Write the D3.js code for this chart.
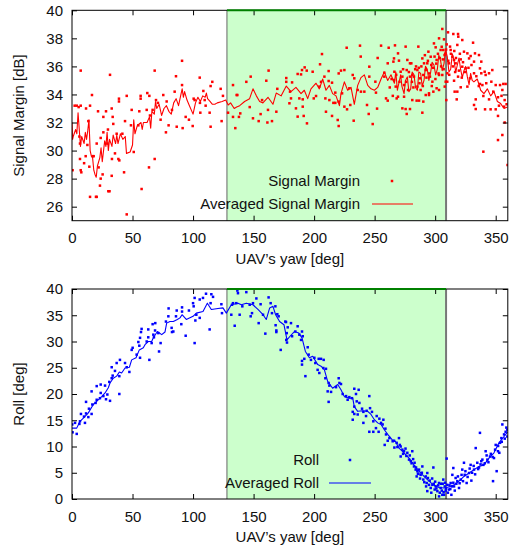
<!DOCTYPE html>
<html>
<head>
<meta charset="utf-8">
<script src="https://cdn.jsdelivr.net/npm/d3@7"></script>
<style>
body { margin: 0; background: #fff; }
svg { font-family: "Liberation Sans", Arial, sans-serif; }
.axis text { font-size: 15px; fill: #111; }
.lbl { font-size: 15px; fill: #111; }
</style>
</head>
<body>
<svg width="510" height="550"></svg>
<script>
// yaw region that is shaded
var band = [128, 309];
var xTicks = [0, 50, 100, 150, 200, 250, 300, 350];
var sigTicks = [26, 28, 30, 32, 34, 36, 38, 40];
var rollTicks = [0, 5, 10, 15, 20, 25, 30, 35, 40];

// signal margin samples [yaw, dB]
var sigPoints = [
[7.2,35.7],[31.4,35.4],[68.3,35.7],[85.9,35.3],[16.5,33.96],[2.2,33.2],[3.9,33.2],[5.5,33.1],[7.2,33.2],[14.9,33.2],
[38.8,33.7],[38.8,33.5],[45.2,33.9],[56.7,33.9],[56.7,33.7],[62.2,34.1],[63.9,33.9],[69.4,33.6],[71,33.4],[75.4,33.96],
[84.8,34.2],[21.5,32.8],[28.1,32.8],[32.8,33],[49.3,32.9],[61.7,32.9],[66.6,32.9],[78.2,33.5],[82.6,32.9],[11.6,33],
[25.9,32.4],[33.6,32.4],[43.8,32.1],[55.6,32.8],[64.4,32.5],[73.2,32.2],[79.8,31.8],[86.5,31.7],[48.7,31.8],[54.8,31.8],
[77.6,31.3],[34.1,31.9],[29.7,31.5],[25.9,31.3],[13.5,32.1],[6.1,31],[23.7,30.9],[6.6,30.5],[12.7,30.4],[36.9,31.2],
[41.6,31.2],[35.5,29.8],[39.1,29.3],[43,28.45],[32.8,28.2],[25.3,28.3],[17.1,29.6],[6.6,29.4],[10,29.1],[7.2,28.6],
[7.7,28.45],[0.5,28.6],[14.3,28.85],[22,28.8],[23.7,28],[23.1,27.5],[30,27.1],[31,27.1],[14.9,26.7],[19.8,26.7],
[20.4,26.7],[57.5,27.26],[45.2,25.45],[51,29.9],[63.6,28.8],[68.3,29.4],[33,29.4],[38.3,29.4],[17.9,29.6],[11.3,29.6],
[29.2,30.5],[20.4,30.5],
[90.9,36.4],[90.9,34.67],[105.5,35.2],[115.9,34.9],[122.8,34.4],[114.5,34.6],[108.5,34.25],[100.5,33.7],[101.3,33.6],[109.6,33.6],
[105.7,33.4],[110.4,33.2],[124.7,33.9],[93.9,32.4],[96.6,32.2],[91.4,31.6],[99.7,31.75],[106,32.7],[113.7,32.7],[114.5,31.7],
[123.6,32.1],[133,34.67],[136.6,33.96],[144,34.9],[147.6,35.27],[160.5,34.98],[162.4,35.7],[169.6,34.4],[177,35.17],[177,34.9],
[128.9,32.7],[133,32.4],[137.9,32.4],[134.9,31.6],[139,32.65],[146.8,33.1],[149.5,32.3],[154.2,32.1],[155.8,32.6],[161.4,32],
[165.2,32.1],[168.8,32.77],[157,33.6],[161.9,32.9],[136,33.96],
[226.9,37.33],[237.9,37.48],[206.5,36.88],[255.3,37.48],[261.6,37.33],[266.8,37.5],[238.5,36.7],[204.9,36.15],[252.5,36.6],[260.8,36.22],
[265.5,36.34],[245.6,35.98],[192.2,35.93],[190,35.74],[193.9,35.7],[198.8,35.62],[212,35.67],[186.4,35.46],[189.2,35.43],[222.2,35.7],
[225,35.74],[220.3,35.5],[231.9,35.39],[233.2,35.15],[245.6,35.27],[250.6,34.91],[258,35.55],[258,35.27],[266.3,35.62],[181.8,34.86],
[212,34.96],[214.8,34.84],[238.7,34.2],[236,34.32],[241.5,34.2],[180.1,34.2],[204.3,34.56],[201.6,33.89],[209.3,33.72],[212.6,33.6],
[217.5,34.13],[223.1,34.08],[229.1,34.44],[251.1,34.13],[259.4,33.72],[260.8,33.56],[187.8,33.72],[180.9,33.72],[179.6,33.37],[190.6,33.65],
[199.7,33.72],[215.9,33.4],[217.5,33.4],[220.3,33.49],[225,33.13],[227.2,32.94],[229.9,33.25],[243.7,33.25],[252,32.99],[185,33.01],
[190.6,33.13],[209.8,32.77],[245.1,32.61],[186.4,32.42],[191.4,32.47],[214.8,32.47],[219.5,32.18],[232.7,32.13],[194.1,31.94],[220.3,31.75],
[248.4,31.89],[205.7,34.9],[208.5,35.27],
[262.5,34.5],[264,35.1],[265,33.9],[267.8,35.4],[270.5,34.9],[273.5,35.8],[276,34.9],[278.3,35.6],
[305.9,38.67],[310.6,38.43],[315,38.31],[318.9,38.31],[322.4,37.88],[331.3,37.69],[303.2,38],[307.3,37.93],[309.5,37.57],[319.1,38.12],
[299,37.64],[286.1,37.41],[275.6,37.41],[294.4,37.05],[296.3,36.69],[300.4,37.36],[304.5,37.17],[312.3,37.41],[318.3,37.53],[323.8,37.05],
[326.6,36.93],[328,36.57],[332.9,36.93],[336.2,36.81],[329.3,36.74],[269.3,36.93],[270.1,36.41],[277,36.46],[279.2,36.22],[280.3,36.22],
[289.4,36.57],[290.8,36.22],[293.5,36.22],[301.2,36.46],[266,36.57],[311.4,36.22],[316.9,36.22],[321.1,36.5],[332.1,36.34],[338.1,36.34],
[322.4,35.98],[325.2,35.86],[337,35.86],[340.9,35.62],[341.7,35.39],[344.5,35.51],[347.2,35.74],[338.1,35.51],[332.1,35.51],[328.8,35.15],
[318.9,35.27],[315.6,34.98],[310,34.91],[321.1,34.51],[326.6,34.56],[318.3,34.2],[316.1,34.2],[337,34.75],[339,34.67],[346.4,34.91],
[350,34.67],[353.6,34.67],[356.3,34.75],[358.2,34.75],[355.5,34.32],[333.5,33.65],[339.8,33.89],[344.5,33.65],[351.9,33.8],[357.4,33.6],
[309.2,33.6],[317.8,33.65],[332.1,33.25],[333.5,32.96],[341.2,32.94],[345.8,32.94],[350,32.94],[356.9,33.13],[351.9,32.47],[357.4,32],
[355.5,31.11],[351.9,30.75],[339.8,29.92],[359.8,28.97],[266,35.03],[267.4,34.56],[269.3,33.84],[271.5,35.62],[272.9,35.27],[276.5,35.74],
[279.2,35.27],[281.1,35.39],[282.5,35.27],[285.3,35.74],[287.5,35.15],[290.2,35.39],[292.2,35.74],[295.7,35.27],[297.7,34.91],[303.2,35.39],
[305.9,35.39],[307.9,34.56],[274.3,34.67],[277.6,34.32],[285.3,34.56],[288,34.32],[294.9,34.08],[298.5,34.2],[301.2,34.44],[268.2,33.72],
[274.3,33.84],[281.1,33.6],[284.7,33.56],[286.7,33.56],[290.2,33.49],[292.2,33.96],[294.9,33.96],[272.9,33.01],[275.6,32.96],[279.2,32.96],
[276.5,32.61],[289.4,32.7],[303.2,34.32],[308.7,34.91],[312.8,37.17],[314.2,36.69],[315.6,36.46],[306.7,37.17],[307.8,36.81],[310,35.51],
[280.8,34.9],[282,34.5],[283.5,35.8],[284.2,36.0],[286.5,35.9],[287,34.8],[288.6,36.0],[289.8,34.6],[291.5,36.8],[292.8,35.2],
[294,36.4],[295,35.5],[296.8,36.1],[297.2,34.6],[298.2,35.9],[299.5,36.7],[300.2,35.1],[300.9,36.2],[302.3,36.9],[302.8,35.5],
[303.8,36.6],[304.9,36.0],[305.4,37.4],[306.3,36.5],[307,35.8],[308.3,36.9],[309,37.2],[310.8,36.4],[311.6,35.4],[313,36.9],
[314.6,36.0],[315.8,37.1],[316.5,35.6],[317.2,36.6],[319.6,35.7],[320.4,36.9],[322,35.2],[323,36.3],[324.6,35.6],[327.5,35.9],
[330,36.1],[334,35.3],[336,34.6],[342.2,34.8],[348,34.2],[352.7,33.2],[354.8,33.9],[359,33.3]
];

// averaged signal margin [yaw, dB]
var sigAvg = [
[0,32.0],[0.5,30.8],[1,31.0],[3,31.5],[4,31.2],[5,32.7],[6,31.5],[7,30.3],[8,31.0],[10,30.5],[11,31.3],[12,30.8],[13,31.4],[14,32.2],
[15,30.0],[16,29.6],[17,29.5],[18,28.6],[19,28.3],[20,28.1],[21,28.9],[23,29.5],[24,30.2],[25,29.2],[27,30.7],[28,30.3],[29,31.3],
[30,30.0],[31,30.8],[33,30.3],[34,31.1],[36,30.5],[37,31.1],[38,30.5],[40,31.2],[42,30.8],[44,31.0],[45,29.8],[48,29.9],[50,30.4],
[51,32.2],[52,31.2],[54,31.8],[57,32.0],[58,31.5],[59,32.0],[62,32.0],[64,32.4],[65,31.6],[66,32.8],[68,32.6],[69,33.5],[70,33.0],
[72,33.3],[74,32.5],[76,33.0],[78,33.2],[80,32.8],[82,32.6],[84,33.4],[86,33.7],[88,33.2],[90,34.0],[91,34.4],[92,33.8],[93,34.2],
[95,33.6],[97,33.2],[100,32.6],[102,33.4],[104,33.8],[106,33.5],[108,33.9],[110,33.8],[111,34.1],[112,33.7],[114,33.5],[116,33.3],
[118,33.3],[120,33.4],[124,33.5],[127,33.6],[129,33.25],[131,33.4],[134,33.0],[136,33.1],[138.5,33.2],[142.6,33.5],[146.7,33.7],
[149.5,34.4],[152.3,33.9],[155,33.5],[157.7,33.4],[161.9,33.8],[166,33.3],[168.7,34.1],[172.8,33.9],[177,34.6],[180.9,34.2],[185,34.5],
[189.2,34.06],[191.9,34.3],[194.7,33.7],[197.4,34.4],[201.6,34.8],[204.3,34.4],[207.1,35.1],[209.8,34.3],[212.6,34.65],[215.3,34.06],
[218.1,33.9],[220.9,33.2],[222.2,34.06],[225,34.9],[227.7,34.3],[230.5,34.5],[233.2,33.3],[236,34.65],[238.7,35.2],[241.5,35.4],
[244.3,34.65],[247,34.4],[249.8,34.3],[252.5,34.5],[255.3,35.1],[258,35.6],[260.8,35.0],[263.5,35.4],[266.3,34.8],[267.5,35.6],
[268.8,34.3],[270,34.8],[271.5,35.4],[272.5,34.6],[274.3,34.06],[275.5,35.0],[277,35.25],[278.3,34.2],[279.8,34.4],[281,35.6],
[282.5,35.4],[283.8,34.5],[285.3,34.3],[286.5,35.6],[288,35.5],[289.3,34.6],[290.8,35.0],[292,36.0],[293.5,35.8],[294.8,35.0],
[296.3,35.6],[297.5,36.3],[299,36.1],[300.4,35.4],[301.8,35.8],[303,36.8],[304.5,36.4],[305.8,35.7],[307.3,36.2],[308.5,37.2],
[310,36.7],[311.4,35.6],[312.8,35.8],[314.2,36.9],[315.6,36.4],[317,35.6],[318.3,36.1],[319.7,36.6],[321,35.8],[322.4,35.2],
[323.8,35.7],[325.2,36.0],[326.6,35.25],[328,34.7],[329.3,35.5],[330.6,35.0],[332,34.9],[334.8,35.1],[337.6,34.3],[340.3,34.06],
[343.1,34.4],[345.8,33.9],[348.6,34.2],[351.4,33.5],[354.1,33.35],[356.9,33.0],[359.6,33.1]
];

// roll samples [yaw, deg]
var rollPoints = [
[0.2,14.2],[0.5,12.7],[3.9,12.4],[2.5,14.5],[6.1,14.3],[7.4,16.2],[9.9,15.7],[11.6,16.3],[13.5,15.6],[16.2,16.2],
[14,17.2],[11.6,18.5],[16.8,18],[19.5,18.3],[20.4,18.9],[23.1,19.2],[25.9,19.6],[28.1,19],[31.4,18.7],[29.2,19.9],
[20.4,21.5],[23.7,21.8],[27.3,21.6],[16.2,20.5],[30.8,22.3],[32.8,23],[33.6,23.5],[32.8,25.1],[35.5,24.4],[39.1,23.4],
[39.1,20],[36.9,25.9],[39.6,26.5],[43.8,25.9],[45.2,25.1],[47.4,24.2],[49.3,28.4],[50.1,28.8],[53.4,27.5],[55.6,29.2],
[56.2,26.9],[54.8,29.9],[57,31.8],[57.5,32.4],[61.7,30],[63,30.8],[63.9,26.5],[65.8,29.7],[67.7,30.8],[68.6,32.1],
[71.3,31.6],[71.9,28.1],[73.2,29.7],[67.2,31.3],[77.6,33.8],[79.6,34.8],[82.3,32.6],[83.7,31.9],[85.9,34.8],[86.5,35.9],
[79.8,36.3],[82.6,31.8],[68.8,33.5],[66.6,33.3],[63,32.3],[56.2,30.7],[23.7,20.2],[6.6,14.8],[10.7,14.5],
[90.9,36.5],[90.9,35.7],[90.3,33.3],[93.9,31.1],[96.6,35.9],[100,37.3],[101.3,38.3],[100.5,36.7],[101.9,34],[101.3,29.7],
[105.5,38],[108.2,38.3],[110.7,39.1],[116.5,38.5],[113.7,32.3],[114.5,37.3],[105.5,34.5],[102.7,35.1],[115.1,39],[123.4,37.1],
[123.9,35.4],[132.2,37],[133,37.3],[134.4,33],[136.6,39.7],[137.1,39.2],[135.7,37.3],[138.5,35.1],[140.7,36.7],[144,39.4],
[146.8,37],[147.6,34.8],[149.5,37.3],[148.7,35.4],[152.3,38.2],[154.2,33.5],[155.8,37.1],[157.8,35.1],[159.7,31.5],[162.4,38.4],
[164.1,37.3],[165.2,35.4],[168,36.7],[168.2,33.1],[168.8,32.1],[168.8,31.8],[169.6,35.2],[170.7,34.8],[172.4,28.4],[176.2,33.8],
[177,30.3],[177.6,29.8],[131.6,35.1],
[176.8,33.7],[180.9,33.5],[178.2,32.7],[177.4,31.6],[181.8,31],[184.5,31.9],[186.4,32.9],[187.8,31.3],[189.2,30.3],[190,31.9],
[190.6,31],[194.7,28.9],[190,26.3],[190,25.6],[191.9,26.7],[192.8,23.4],[195.5,27.5],[197.4,26.5],[200.2,26.9],[201,25.9],
[203.8,26.7],[205.7,26.7],[207.9,26.5],[202.9,24.6],[204.3,24],[207.6,24.95],[209.8,24.8],[209.3,23],[212,22.1],[211.2,20.5],
[214,20.4],[212.6,21.6],[218.1,21.3],[220.3,23],[220.9,22.1],[222.2,21.9],[223.6,20],[212,18.5],[226.4,19.6],[227.7,18.9],
[229.1,19.4],[231.3,19.2],[233.2,21],[234.6,20],[236.8,20.8],[235.2,18.6],[233.2,17.6],[231.9,16.6],[231.9,15.1],[233.2,16.2],
[236,16.1],[237.4,18.3],[239.6,17.2],[240.7,16.6],[243.4,16.8],[245.6,19.6],[246.2,17.3],[247.8,16.6],[242.9,15.8],[240.7,14.5],
[248.9,14.8],[245.6,12.8],[251.7,15.8],[253.9,15.3],[255.3,14.5],[256.6,14.2],[251.1,13.5],[248.9,12.8],[253.3,12.8],[258.9,13.4],
[259.4,12.3],[262.2,11.6],[264.9,11],[260.8,11.1],[258.3,10.3],[257.2,15.1],[266.3,9.8],
[266,11.1],[268.2,10.7],[270.1,11.6],[271.5,10],[272.9,9.4],[271.5,8.1],[274.3,9.1],[277,8.8],[278.4,7.5],[279.8,7.2],
[281.1,9.1],[282.5,6.2],[283.9,5.6],[285.3,5.3],[286.7,5.6],[284.7,4.3],[288,4.6],[289.4,6.2],[290.2,3.7],[292.2,4.3],
[293.5,4.95],[293,3.05],[294.9,2.7],[296.3,2.1],[297.7,2.7],[298.5,6],[299.6,1.8],[300.4,2.4],[301.8,1.5],[303.2,3.05],
[304.5,2.1],[305.9,0.8],[306.7,3.7],[307.9,2.4],[309.5,7.7],[310,2.7],[311.4,1.8],[312.8,3.05],[313.4,0.8],[314.2,4.6],
[315,5.9],[315.6,2.4],[316.9,4],[318.3,3.4],[319.7,2.1],[321.1,3.7],[322.4,5.6],[323.8,6.9],[324.4,4.6],[326,3.05],
[328,4.95],[329.3,6.5],[329.9,3.5],[332.1,5.6],[333.5,9.7],[334.8,6.9],[336.2,6],[337,12.6],[338.1,7.2],[339.8,6.5],
[341.7,9.1],[343.1,7.5],[345.3,8.1],[347.8,3.4],[348.6,7.8],[350,10.3],[350.8,5.3],[351.9,9.1],[353.6,10.7],[354.7,11.6],
[355.5,14.2],[356.9,12.3],[358.2,12.8],[359.6,13.2],[359.6,11.9],[307.3,0.8],[308.7,1.6],[303.2,0.5],[293.5,1.5],
[268.8,9.9],[270.8,10.3],[273.5,8.6],[275.5,9.6],[276.2,8.2],[279,8.3],[280.5,6.8],[281.8,7.6],[283,6.9],[284.2,6.0],
[285.8,4.8],[286,4.8],[287.5,3.9],[289,5.0],[291,3.2],[292.5,2.4],[294,4.0],[295.5,3.5],[296.8,1.2],[297.5,3.9],
[298.8,2.9],[300,3.3],[301,2.0],[302.5,2.6],[303.8,1.2],[304.8,2.9],[305.5,1.6],[306.2,2.9],[307,1.3],[308.2,3.1],
[309,2.0],[310.5,1.2],[311.8,2.6],[312.5,1.9],[313.8,2.4],[315,3.1],[316.2,1.6],[317.5,2.9],[318.8,4.3],[320.2,3.0],
[321.8,4.6],[323,3.4],[325,5.3],[326.8,4.2],[328.5,5.8],[330.5,5.0],[331.8,6.3],[333,4.7],[335.5,5.7],[337.5,6.6],
[339,7.5],[341,6.8],[342.5,8.3],[344,7.0],[346,8.6],[347.5,8.0],[349.5,9.4],[352,10.1],[353,8.8],[355,10.9],
[357.5,11.5],[358.8,13.6]
];

// averaged roll [yaw, deg]
var rollAvg = [
[0,13.5],[3.9,13.5],[6.6,14.8],[9.4,15.4],[13.5,16.4],[17.6,18.0],[20.4,18.6],[24.5,19.5],[27.3,20.2],[30,21.2],[31.4,22.1],
[34.1,23.0],[36.9,23.4],[39.1,24.2],[41,24.0],[43.8,24.95],[47.4,25.1],[49.3,26.5],[52.9,26.9],[55.6,28.4],[58.9,28.8],[60.3,29.4],
[63,30.0],[65.8,30.0],[67.2,30.7],[70.5,31.9],[74.1,31.3],[76.8,31.8],[78.2,33.5],[80.9,33.8],[83.7,33.8],[87,34.2],[89.2,34.5],
[90.9,35.1],[94.4,34.2],[100,34.8],[102.7,35.4],[108.2,35.7],[111.8,37.3],[115.1,36.1],[120.6,36.3],[124.7,36.4],[127.5,35.4],
[131.6,37.0],[137.1,37.3],[139.9,37.0],[144,37.3],[149.5,37.0],[153.6,36.1],[157.8,35.1],[160.5,34.2],[163.3,36.4],[166,36.7],
[168.2,35.1],[171.5,33.8],[175.1,33.2],[177.6,30.3],[180.1,31.0],[183.7,31.9],[187.3,31.6],[190,30.7],[192.8,28.1],[196.1,26.9],
[198.8,27.2],[203,25.6],[205.7,25.3],[208.5,24.6],[211.2,22.4],[215.3,21.1],[219.5,21.8],[222.2,20.8],[225,19.5],[229.1,19.2],
[231.9,19.2],[233.2,17.6],[236,16.7],[240.1,16.8],[244.3,16.7],[247,16.1],[249.8,15.1],[252.5,14.5],[255.3,14.2],[258,13.2],
[260.8,12.3],[264.4,11.3],[267.1,11.0],[270.1,9.7],[274.3,8.8],[278.4,7.8],[282.5,6.5],[286.7,5.3],[290.8,4.3],[294.9,3.4],
[299,2.6],[303.2,2.2],[307.3,2.1],[311.4,2.3],[315.6,2.7],[319.7,3.4],[323.8,4.3],[328,4.95],[332.1,5.6],[336.2,6.2],[340.3,6.5],
[344.5,7.8],[348.6,8.8],[352.7,10.7],[356.9,11.9],[360,12.8]
];

var svg = d3.select("svg");
var x = d3.scaleLinear().domain([0, 360]).range([72, 507.8]);

function panel(opts) {
	var y = d3.scaleLinear().domain(opts.yDomain).range([opts.bottom, opts.top]);
	var g = svg.append("g");
	var clipId = "clip" + Math.round(opts.top);
	g.append("clipPath").attr("id", clipId).append("rect")
		.attr("x", x(0)).attr("y", opts.top).attr("width", x(360) - x(0)).attr("height", opts.bottom - opts.top);

	// shaded region
	g.append("rect")
		.attr("x", x(band[0])).attr("y", opts.top)
		.attr("width", x(band[1]) - x(band[0])).attr("height", opts.bottom - opts.top)
		.attr("fill", "#ccffcc");
	g.append("line").attr("x1", x(band[0])).attr("x2", x(band[0]))
		.attr("y1", opts.top).attr("y2", opts.bottom).attr("stroke", "#666").attr("stroke-width", 1);
	g.append("line").attr("x1", x(band[1])).attr("x2", x(band[1]))
		.attr("y1", opts.top).attr("y2", opts.bottom).attr("stroke", "#777").attr("stroke-width", 2);

	var plot = g.append("g").attr("clip-path", "url(#" + clipId + ")");
	var line = d3.line().x(function(d){return x(d[0])}).y(function(d){return y(d[1])});
	plot.append("path").datum(opts.avg)
		.attr("d", line).attr("fill", "none")
		.attr("stroke", opts.color).attr("stroke-width", 1.1).attr("stroke-linejoin", "round");
	plot.selectAll("rect.pt").data(opts.points)
		.enter().append("rect").attr("class", "pt")
		.attr("x", function(d){return x(d[0]) - 1.25})
		.attr("y", function(d){return y(d[1]) - 1.25})
		.attr("width", 2.5).attr("height", 2.5)
		.attr("fill", opts.color);

	// axes, ticks inward and mirrored
	var ax = g.append("g").attr("class", "axis");
	ax.append("g").attr("transform", "translate(0," + opts.bottom + ")")
		.call(d3.axisBottom(x).tickValues(xTicks).tickSizeInner(-5).tickSizeOuter(0).tickPadding(12));
	ax.append("g").attr("transform", "translate(0," + opts.top + ")")
		.call(d3.axisTop(x).tickValues(xTicks).tickSizeInner(-5).tickSizeOuter(0).tickFormat(""));
	ax.append("g").attr("transform", "translate(" + x(0) + ",0)")
		.call(d3.axisLeft(y).tickValues(opts.yTicks).tickSizeInner(-5).tickSizeOuter(0).tickPadding(9));
	ax.append("g").attr("transform", "translate(" + x(360) + ",0)")
		.call(d3.axisRight(y).tickValues(opts.yTicks).tickSizeInner(-5).tickSizeOuter(0).tickFormat(""));
	ax.selectAll(".domain").remove();
	ax.selectAll("line").attr("stroke", "#000");

	g.append("rect").attr("x", x(0)).attr("y", opts.top)
		.attr("width", x(360) - x(0)).attr("height", opts.bottom - opts.top)
		.attr("fill", "none").attr("stroke", "#000").attr("stroke-width", 1);
	g.append("line").attr("x1", x(band[0])).attr("x2", x(band[1]))
		.attr("y1", opts.top).attr("y2", opts.top)
		.attr("stroke", "#008000").attr("stroke-width", 2);

	g.append("text").attr("class", "lbl")
		.attr("text-anchor", "middle")
		.attr("x", (x(0) + x(360)) / 2).attr("y", opts.bottom + 43)
		.text("UAV’s yaw [deg]");
	g.append("text").attr("class", "lbl")
		.attr("text-anchor", "middle")
		.attr("transform", "translate(24," + ((opts.top + opts.bottom) / 2) + ") rotate(-90)")
		.text(opts.yLabel);

	// legend
	var lg = g.append("g").attr("transform", "translate(" + opts.legX + "," + opts.legY + ")");
	lg.append("text").attr("class", "lbl").attr("text-anchor", "end")
		.attr("x", 0).attr("y", 5).text(opts.names[0]);
	lg.append("rect").attr("x", opts.markX - 1.25).attr("y", -1.25)
		.attr("width", 2.5).attr("height", 2.5).attr("fill", opts.color);
	lg.append("text").attr("class", "lbl").attr("text-anchor", "end")
		.attr("x", 0).attr("y", 28).text(opts.names[1]);
	lg.append("line").attr("x1", opts.lineX[0]).attr("x2", opts.lineX[1])
		.attr("y1", 23).attr("y2", 23).attr("stroke", opts.color).attr("stroke-width", 1.1);
}

panel({
	top: 10.3, bottom: 220.7, yDomain: [25, 40], yTicks: sigTicks,
	points: sigPoints, avg: sigAvg, color: "#ff0000",
	yLabel: "Signal Margin [dB]", names: ["Signal Margin", "Averaged Signal Margin"],
	legX: 360, legY: 181, markX: 32, lineX: [12, 53]
});
panel({
	top: 289, bottom: 499, yDomain: [0, 40], yTicks: rollTicks,
	points: rollPoints, avg: rollAvg, color: "#0000ff",
	yLabel: "Roll [deg]", names: ["Roll", "Averaged Roll"],
	legX: 319, legY: 460, markX: 31, lineX: [10, 52]
});
</script>
</body>
</html>
